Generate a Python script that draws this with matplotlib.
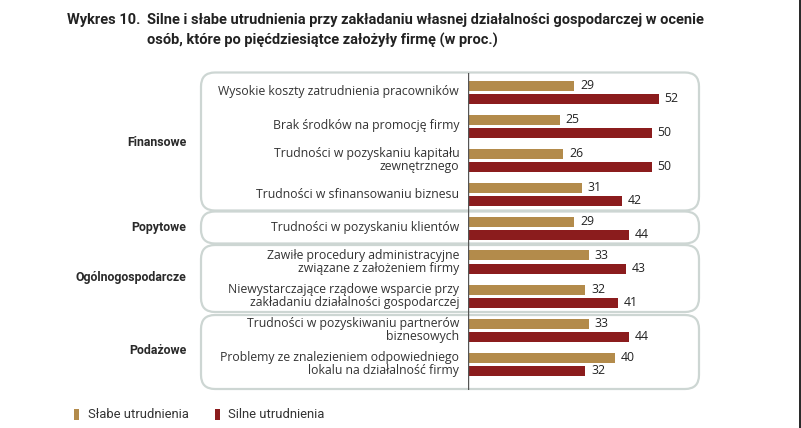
import matplotlib
matplotlib.use("Agg")
import matplotlib.pyplot as plt
from matplotlib.patches import FancyBboxPatch, Rectangle

# ---- data ----
groups = ["Finansowe", "Popytowe", "Ogólnogospodarcze", "Podażowe"]
group_sizes = [4, 1, 2, 2]
categories = [
    "Wysokie koszty zatrudnienia pracowników",
    "Brak środków na promocję firmy",
    "Trudności w pozyskaniu kapitału\nzewnętrznego",
    "Trudności w sfinansowaniu biznesu",
    "Trudności w pozyskaniu klientów",
    "Zawiłe procedury administracyjne\nzwiązane z założeniem firmy",
    "Niewystarczające rządowe wsparcie przy\nzakładaniu działalności gospodarczej",
    "Trudności w pozyskiwaniu partnerów\nbiznesowych",
    "Problemy ze znalezieniem odpowiedniego\nlokalu na działalność firmy",
]
weak = [29, 25, 26, 31, 29, 33, 32, 33, 40]
strong = [52, 50, 50, 42, 44, 43, 41, 44, 32]
series_names = ["Słabe utrudnienia", "Silne utrudnienia"]

C_WEAK = "#b38b4b"
C_STRONG = "#8b1c1d"
C_TEXT = "#333333"
C_BOX = "#cdd6d3"

W, H = 801, 428
fig = plt.figure(figsize=(W / 100, H / 100), dpi=100)

# background axes in pixel coordinates
bg = fig.add_axes([0, 0, 1, 1])
bg.set_xlim(0, W)
bg.set_ylim(H, 0)
bg.axis("off")

# bar axes: category i at pixel y = 92 + 34*i ; x: 0 at px 468, 3.67 px/unit
y0, dy = 92, 34
top_px, bot_px = 73, 390
left_px, xmax = 468, 60
ppu = 3.67
ax = fig.add_axes([left_px / W, 1 - bot_px / H, xmax * ppu / W, (bot_px - top_px) / H])
ax.set_xlim(0, xmax)
ax.set_ylim((bot_px - y0) / dy, (top_px - y0) / dy)
ax.axis("off")
ax.patch.set_alpha(0)

font = "Open Sans"
fs = 8.8
bh = 10 / dy
off = 6.5 / dy
ys = list(range(len(categories)))
ax.barh([y - off for y in ys], weak, height=bh, color=C_WEAK, zorder=3)
ax.barh([y + off for y in ys], strong, height=bh, color=C_STRONG, zorder=3)
for y, w_, s_ in zip(ys, weak, strong):
    ax.text(w_ + 1.5, y - off, str(w_), va="center", ha="left", fontsize=fs,
            family=font, color="#222222")
    ax.text(s_ + 1.5, y + off, str(s_), va="center", ha="left", fontsize=fs,
            family=font, color="#222222")
    ax.text(-2.4, y, categories[y], va="center", ha="right", fontsize=fs,
            family=font, color=C_TEXT, linespacing=1.0)
ax.axvline(0, color="#555555", lw=1.0, zorder=4)

# group boxes
box_edges = [(72.5, 210.5), (211.5, 243.5), (245, 312), (315, 389)]
group_label_y = [142, 227, 278, 350]
for (t, b), g, gy in zip(box_edges, groups, group_label_y):
    bg.add_patch(FancyBboxPatch((201, t), 498, b - t,
                                boxstyle="round,pad=0,rounding_size=14",
                                facecolor="white", edgecolor=C_BOX, lw=1.6))
    bg.text(186, gy, g, ha="right", va="center", fontsize=8.9,
            family="Roboto", weight="bold", color="#2a2a2a")

# title
tfs = 10.5
bg.text(67, 20, "Wykres 10.", ha="left", va="center", fontsize=tfs,
        family="Roboto", weight="bold", color="#222222")
bg.text(147, 20, "Silne i słabe utrudnienia przy zakładaniu własnej działalności gospodarczej w ocenie",
        ha="left", va="center", fontsize=tfs, family="Roboto", weight="bold", color="#222222")
bg.text(147, 40, "osób, które po pięćdziesiątce założyły firmę (w proc.)",
        ha="left", va="center", fontsize=tfs, family="Roboto", weight="bold", color="#222222")

# legend
for x_m, x_t, c, name in [(74, 88, C_WEAK, series_names[0]), (215, 228, C_STRONG, series_names[1])]:
    bg.add_patch(Rectangle((x_m, 409), 4.5, 11, facecolor=c, edgecolor="none"))
    bg.text(x_t, 415, name, ha="left", va="center", fontsize=9.4, family="Roboto", color=C_TEXT)

# right edge dark border
bg.add_patch(Rectangle((798.5, 0), 2.5, H, facecolor="#2b2b2b", edgecolor="none"))

fig.savefig("out.png", dpi=100)
